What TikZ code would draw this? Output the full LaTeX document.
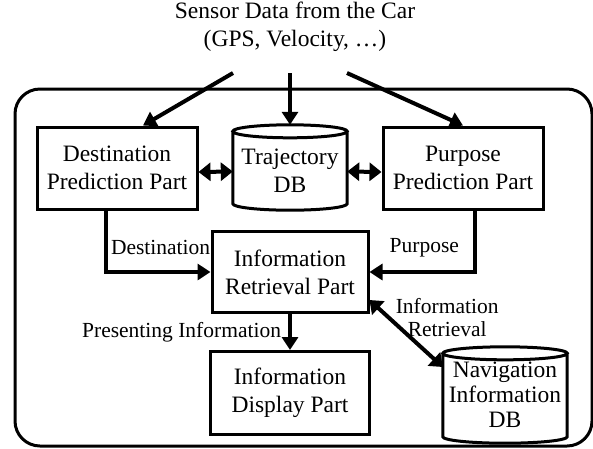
\documentclass[tikz,border=0pt]{standalone}
\usepackage{fontspec}
\setmainfont{Liberation Serif}
\usetikzlibrary{shapes,arrows.meta,positioning,calc}

% cilindro di un DB disegnato attorno al nodo
\newcommand{\dbdraw}[1]{%
    \draw[line width=3pt] let \p1=(#1.north west), \p2=(#1.south east), \n1={(\x2-\x1)/2} in
        ([yshift=-6.5pt]#1.north) ellipse[x radius=\n1, y radius=6.5pt]
        ([yshift=-6.5pt]#1.north west) -- ([yshift=6.5pt]#1.south west)
        arc[start angle=180, end angle=360, x radius=\n1, y radius=6.5pt]
        -- ([yshift=-6.5pt]#1.north east);}

\begin{document}
\begin{tikzpicture}[x=1pt,y=-1pt]
    % Stili
    \tikzset{
        every node/.style={font=\fontsize{23.5}{28}\selectfont},
        part/.style={rectangle, draw, line width=3pt, minimum width=160pt, minimum height=82pt, align=center, inner sep=0pt},
        db/.style={rectangle, align=center, inner sep=0pt},
        arrow/.style={-{Triangle[length=13pt,width=16pt]}, line width=4pt},
        biarrow/.style={{Triangle[length=12pt,width=18pt]}-{Triangle[length=12pt,width=18pt]}, line width=4pt},
        flowlabel/.style={inner sep=0pt, font=\fontsize{21.5}{23}\selectfont}
    }
    \useasboundingbox (0,0) rectangle (593,448);

    % Dati in ingresso
    \node[align=center] (sensor) at (295,27) {Sensor Data from the Car\\(GPS, Velocity, …)};
    \coordinate (srcL) at (233,73);
    \coordinate (srcC) at (290,73);
    \coordinate (srcR) at (347,73);

    % Sistema
    \draw[line width=3pt, rounded corners=25pt] (15,89) rectangle (592,446);

    % Blocchi
    \node[part] (dest) at (117,168) {Destination\\Prediction Part};
    \node[db, minimum width=114pt, minimum height=85pt] (traj) at (290,167.5) {\\[-6pt]Trajectory\\DB};
    \node[part] (purpose) at (463,168) {Purpose\\Prediction Part};
    \node[part, minimum width=156pt, minimum height=81pt] (info) at (290,272) {Information\\Retrieval Part};
    \node[part, minimum width=159pt, minimum height=83pt] (display) at (290,393) {Information\\Display Part};
    \node[db, minimum width=124pt, minimum height=96pt, font=\fontsize{23.5}{25}\selectfont] (nav) at (505,395) {Navigation\\Information\\DB};
    \dbdraw{traj}
    \dbdraw{nav}

    % Frecce dai sensori
    \draw[arrow] (srcL) -- ([xshift=26pt]dest.north);
    \draw[arrow] (srcC) -- (traj.north);
    \draw[arrow] (srcR) -- (purpose.north);

    % Scambio con il DB
    \draw[biarrow] ([yshift=-4pt]dest.east) -- ([yshift=-4pt]traj.west);
    \draw[biarrow] ([yshift=-4pt]traj.east) -- ([yshift=-4pt]purpose.west);

    % Flussi verso il recupero
    \draw[arrow] ([xshift=-11pt]dest.south) |- node[flowlabel, anchor=base west, pos=0.5, xshift=3pt, yshift=18pt] {Destination} (info.west);
    \draw[arrow] ([xshift=12pt]purpose.south) |- node[flowlabel, anchor=base east, pos=0.5, xshift=-14pt, yshift=20pt] {Purpose} (info.east);
    \draw[arrow] (info.south) -- node[flowlabel, anchor=base east, pos=0.64, xshift=-7pt] {Presenting Information} (display.north);
    \draw[biarrow] ([yshift=-28pt]info.east) -- node[flowlabel, align=center, xshift=41pt, yshift=16pt] {Information\\Retrieval} ([yshift=28pt]nav.west);

\end{tikzpicture}
\end{document}
